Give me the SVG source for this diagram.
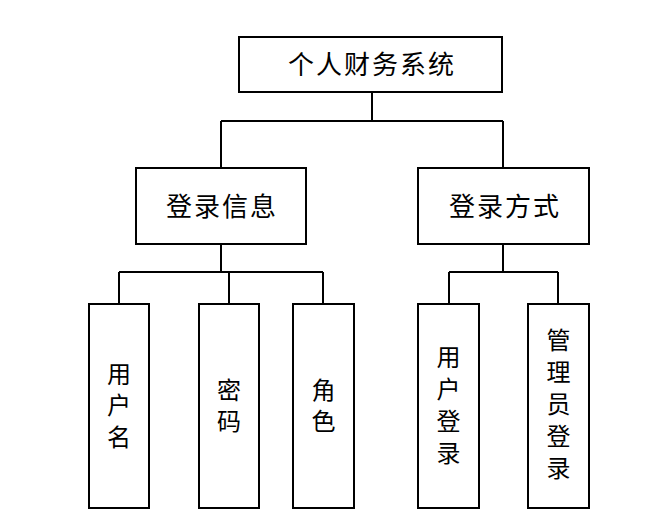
<svg xmlns="http://www.w3.org/2000/svg" width="664" height="524" viewBox="0 0 664 524">
<style>
.box{fill:#fff;stroke:#000;stroke-width:2}
.ln{fill:none;stroke:#000;stroke-width:2}
.t{font-family:"Liberation Serif","Noto Sans CJK SC",serif;font-size:26px;letter-spacing:2px;fill:#000;text-anchor:middle}
.v{font-family:"Liberation Serif","Noto Sans CJK SC",serif;font-size:24px;fill:#000;text-anchor:middle}
</style>
<rect width="664" height="524" fill="#fff"/>
<g id="connectors">
<path class="ln" d="M372 92V121M221 121H503M221 121V168M503 121V168"/>
<path class="ln" d="M221 244V272M119 272H323M119 272V304M229 272V304M323 272V304"/>
<path class="ln" d="M503 244V272M449 272H558M449 272V304M558 272V304"/>
</g>
<g id="root">
<rect class="box" x="239" y="37" width="263" height="55"/>
<text class="t" x="372" y="74">个人财务系统</text>
</g>
<g id="login-info">
<rect class="box" x="136" y="168" width="170" height="76"/>
<text class="t" x="222" y="216">登录信息</text>
</g>
<g id="login-method">
<rect class="box" x="418" y="168" width="171" height="76"/>
<text class="t" x="505" y="216">登录方式</text>
</g>
<g id="username">
<rect class="box" x="89" y="304" width="60" height="204"/>
<text class="v"><tspan x="119" y="383">用</tspan><tspan x="119" y="414">户</tspan><tspan x="119" y="446">名</tspan></text>
</g>
<g id="password">
<rect class="box" x="199" y="304" width="60" height="204"/>
<text class="v"><tspan x="229" y="399">密</tspan><tspan x="229" y="430">码</tspan></text>
</g>
<g id="role">
<rect class="box" x="293" y="304" width="61" height="204"/>
<text class="v"><tspan x="323.5" y="399">角</tspan><tspan x="323.5" y="430">色</tspan></text>
</g>
<g id="user-login">
<rect class="box" x="418" y="304" width="61" height="204"/>
<text class="v"><tspan x="448.5" y="366">用</tspan><tspan x="448.5" y="398">户</tspan><tspan x="448.5" y="430">登</tspan><tspan x="448.5" y="462">录</tspan></text>
</g>
<g id="admin-login">
<rect class="box" x="528" y="304" width="61" height="204"/>
<text class="v"><tspan x="558.5" y="349">管</tspan><tspan x="558.5" y="381">理</tspan><tspan x="558.5" y="413">员</tspan><tspan x="558.5" y="445">登</tspan><tspan x="558.5" y="477">录</tspan></text>
</g>
</svg>
